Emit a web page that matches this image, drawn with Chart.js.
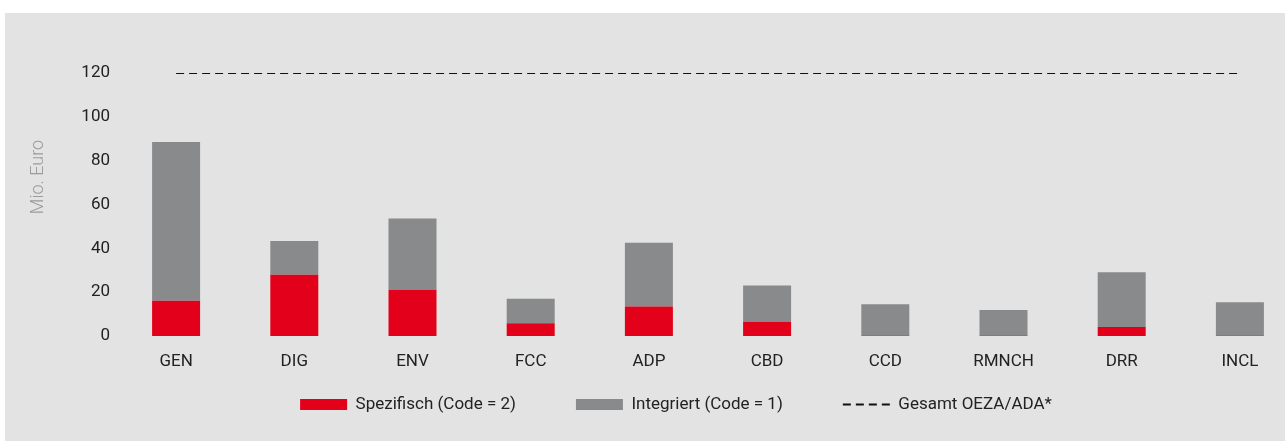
<!DOCTYPE html>
<html><head><meta charset="utf-8">
<script src="https://cdn.jsdelivr.net/npm/chart.js@4.4.1/dist/chart.umd.min.js"></script>
<style>
html,body{margin:0;padding:0;background:#fff;overflow:hidden;width:1285px;height:441px;}
#wrap{position:absolute;left:5px;top:13px;width:1280px;height:428px;overflow:hidden;background:#e2e3e2;}
canvas{display:block;}
</style></head><body>
<div id="wrap"><canvas id="c" width="1294" height="428"></canvas></div>
<script>
const categories = ['GEN', 'DIG', 'ENV', 'FCC', 'ADP', 'CBD', 'CCD', 'RMNCH', 'DRR', 'INCL'];
const spezifisch = [16.1, 28.0, 21.1, 5.8, 13.5, 6.5, 0.2, 0.2, 4.1, 0.2];
const integriert = [72.4, 15.4, 32.5, 11.2, 29.1, 16.5, 14.3, 11.7, 25.0, 15.2];
const gesamt = [120, 120, 120, 120, 120, 120, 120, 120, 120, 120];
const yTicks = [0, 20, 40, 60, 80, 100, 120];
const seriesLabels = ['Spezifisch (Code = 2)', 'Integriert (Code = 1)', 'Gesamt OEZA/ADA*'];
const axisTitle = 'Mio. Euro';

Chart.defaults.font.family = "Roboto, 'DejaVu Sans', sans-serif";

function makeLegend(chart) {
  const items = Chart.defaults.plugins.legend.labels.generateLabels(chart);
  items.forEach(it => {
    const ds = chart.data.datasets[it.datasetIndex];
    if (ds.type === 'line') {
      it.pointStyle = 'line';
      it.lineWidth = 2;
      it.lineDash = [8, 5];
      it.strokeStyle = '#111';
    } else {
      it.pointStyle = 'rect';
      it.lineWidth = 0;
      it.fillStyle = ds.backgroundColor;
    }
  });
  return items;
}

// moves the y-axis title centre upward while the axis is drawn, then restores the bounds
const TITLE_SHIFT = 55;
const titleShift = {
  id: 'titleShift',
  beforeDraw(chart) { chart.scales.y.bottom -= TITLE_SHIFT; },
  beforeDatasetsDraw(chart) { chart.scales.y.bottom += TITLE_SHIFT; }
};

new Chart(document.getElementById('c'), {
  data: {
    labels: categories,
    datasets: [
      {type: 'bar', label: seriesLabels[0], data: spezifisch, backgroundColor: '#e2001a', borderWidth: 0,
       stack: 's', order: 2, barPercentage: 0.406, categoryPercentage: 1},
      {type: 'bar', label: seriesLabels[1], data: integriert, backgroundColor: '#898a8b', borderWidth: 0,
       stack: 's', order: 2, barPercentage: 0.406, categoryPercentage: 1},
      {type: 'line', label: seriesLabels[2], data: gesamt, borderColor: '#111', backgroundColor: '#111',
       borderWidth: 2, borderDash: [8, 5], pointRadius: 0, fill: false, stack: 'line', order: 1}
    ]
  },
  plugins: [titleShift],
  options: {
    responsive: false, animation: false, devicePixelRatio: 1,
    layout: {padding: {top: 60, left: 48, right: 0, bottom: 18}},
    plugins: {
      tooltip: {enabled: false},
      legend: {
        position: 'bottom',
        labels: {usePointStyle: true, pointStyleWidth: 47, boxHeight: 11, padding: 60,
                 color: '#222', font: {size: 17}, generateLabels: makeLegend,
                 sort: (a, b) => a.datasetIndex - b.datasetIndex}
      }
    },
    scales: {
      x: {
        stacked: true,
        grid: {display: false, drawTicks: false}, border: {display: false},
        ticks: {mirror: true, padding: -36, color: '#222', font: {size: 17}, maxRotation: 0, autoSkip: false},
        afterFit: s => { s.height = 0; }
      },
      y: {
        stacked: true, min: 0, max: 120,
        grid: {display: false, drawTicks: false}, border: {display: false},
        ticks: {padding: 7, color: '#222', font: {size: 17}},
        afterBuildTicks: s => { s.ticks = yTicks.map(v => ({value: v})); },
        title: {display: true, text: axisTitle, color: '#9b9b9b', font: {size: 18, weight: '300'}, padding: {top: -25, bottom: 0}},
        afterFit: s => { s.width = 64; }
      }
    }
  }
});
</script>
</body></html>
